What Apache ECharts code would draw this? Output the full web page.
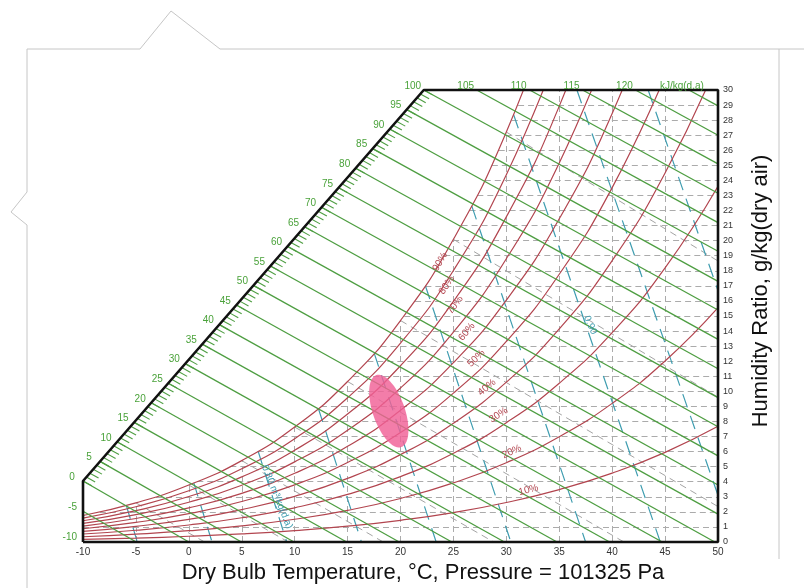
<!DOCTYPE html>
<html>
<head>
<meta charset="utf-8">
<script src="https://cdn.jsdelivr.net/npm/echarts@6/dist/echarts.min.js"></script>
<style>
  html, body { margin: 0; padding: 0; background: #ffffff; }
  #chart { width: 804px; height: 588px; }
</style>
</head>
<body>
<div id="chart"></div>
<script>
// ---------------- Psychrometric chart data (dry bulb °C, humidity g/kg) ----------------

// Relative humidity curves: humidity ratio at each dry-bulb temperature
const rhLevels = [10, 20, 30, 40, 50, 60, 70, 80, 90, 100];
const rhTemps = [-10, -5, 0, 5, 10, 15, 20, 25, 30, 35, 40, 45, 50];
const rhHumidity = [
  [0.18, 0.26, 0.38, 0.54, 0.76, 1.05, 1.44, 1.95, 2.62, 3.48, 4.57, 5.95, 7.68],
  [0.35, 0.52, 0.75, 1.07, 1.51, 2.10, 2.89, 3.92, 5.26, 6.99, 9.20, 12.01, 15.55],
  [0.53, 0.78, 1.13, 1.61, 2.27, 3.16, 4.34, 5.89, 7.92, 10.54, 13.90, 18.19, 23.61],
  [0.70, 1.04, 1.50, 2.15, 3.03, 4.22, 5.80, 7.88, 10.61, 14.14, 18.68, 24.49, 31.89],
  [0.88, 1.30, 1.88, 2.69, 3.79, 5.28, 7.26, 9.88, 13.31, 17.77, 23.52, 30.91],
  [1.06, 1.56, 2.26, 3.23, 4.56, 6.35, 8.74, 11.90, 16.05, 21.45, 28.44, 37.47],
  [1.23, 1.82, 2.64, 3.77, 5.32, 7.42, 10.22, 13.93, 18.80, 25.16, 33.44],
  [1.41, 2.08, 3.02, 4.32, 6.09, 8.49, 11.70, 15.97, 21.58, 28.93, 38.51],
  [1.59, 2.34, 3.40, 4.86, 6.86, 9.57, 13.20, 18.02, 24.38, 32.73],
  [1.76, 2.60, 3.78, 5.40, 7.63, 10.65, 14.70, 20.09, 27.21, 36.58]
];
const rhLabelText = ['10%', '20%', '30%', '40%', '50%', '60%', '70%', '80%', '90%'];
const rhLabelPos = [[32.1, 3.45], [30.52, 5.99], [29.26, 8.43], [28.16, 10.26], [27.15, 12.19],
                    [26.26, 13.95], [25.16, 15.73], [24.37, 17.05], [23.74, 18.6]];

// Enthalpy lines, kJ/kg(d.a): start on the scale edge, end on the bottom/right edge
const enthalpyValues = [-10, -5, 0, 5, 10, 15, 20, 25, 30, 35, 40, 45, 50, 55, 60, 65, 70,
                        75, 80, 85, 90, 95, 100, 105, 110, 115, 120, 125];
const enthalpyStart = [[-10, 0.03], [-10, 2.04], [-10, 4.05], [-8.39, 5.35], [-6.78, 6.65],
  [-5.17, 7.94], [-3.56, 9.24], [-1.95, 10.54], [-0.34, 11.84], [1.27, 13.13], [2.88, 14.43],
  [4.49, 15.73], [6.10, 17.03], [7.71, 18.32], [9.32, 19.62], [10.93, 20.92], [12.54, 22.22],
  [14.15, 23.51], [15.76, 24.81], [17.37, 26.11], [18.98, 27.41], [20.59, 28.70], [22.20, 30],
  [27.20, 30], [32.20, 30], [37.20, 30], [42.20, 30], [47.25, 30]];
const enthalpyEnd = [[-9.94, 0], [-4.97, 0], [0, 0], [4.97, 0], [9.94, 0], [14.91, 0],
  [19.88, 0], [24.85, 0], [29.82, 0], [34.79, 0], [39.76, 0], [44.73, 0], [49.70, 0],
  [50, 1.85], [50, 3.78], [50, 5.72], [50, 7.65], [50, 9.58], [50, 11.50], [50, 13.45],
  [50, 15.40], [50, 17.30], [50, 19.30], [50, 21.20], [50, 23.15], [50, 25.10], [50, 27.00],
  [50, 28.95]];
const enthalpyUnit = 'kJ/kg(d.a)';

// Specific volume lines, m³/kg(d.a)
const volumeValues = [0.76, 0.78, 0.80, 0.82, 0.84, 0.86, 0.88, 0.90, 0.92, 0.94];
const volumeStart = [[-5.91, 2.43], [0.47, 3.92], [6.55, 6.02], [12.24, 8.86], [17.52, 12.52],
  [22.35, 17.01], [26.74, 22.29], [30.70, 28.34], [36.67, 30], [43.40, 30]];
const volumeEnd = [[-4.87, 0], [2.19, 0], [9.25, 0], [16.31, 0], [23.37, 0], [30.43, 0],
  [37.49, 0], [44.55, 0], [50, 3.10], [50, 16.69]];
const volumeLabelText = ['0.80 m³/kg(d.a)', '0.90'];
const volumeLabelPos = [[8.33, 2.99], [37.93, 14.4]];

// Wet bulb lines, °C
const wetBulbValues = [-5, 0, 5, 10, 15, 20, 25, 30];
const wetBulbStart = [[-5, 2.60], [0, 3.78], [5, 5.40], [10, 7.63], [15, 10.65], [20, 14.70],
  [25, 20.09], [30, 27.21]];
const wetBulbEnd = [[1.49, 0], [9.39, 0], [18.37, 0], [28.80, 0], [41.11, 0], [50, 2.35],
  [50, 9.61], [50, 18.65]];

// Grid: horizontal lines begin at the dew point, vertical lines stop at saturation
const gridHumidity = [1, 2, 3, 4, 5, 6, 7, 8, 9, 10, 11, 12, 13, 14, 15, 16, 17, 18, 19, 20,
  21, 22, 23, 24, 25, 26, 27, 28, 29];
const gridDewPoint = [-10, -8.41, -3.11, 0.80, 3.92, 6.52, 8.76, 10.72, 12.48, 14.07, 15.53,
  16.87, 18.11, 19.27, 20.36, 21.38, 22.35, 23.27, 24.14, 24.97, 25.77, 26.53, 27.26, 27.96,
  28.63, 29.28, 29.91, 30.52, 31.11];
const gridTemps = [-5, 0, 5, 10, 15, 20, 25, 30, 35, 40, 45];
const gridSatHumidity = [2.60, 3.78, 5.40, 7.63, 10.65, 14.70, 20.09, 27.21, 30, 30, 30];

// Chart boundary: left edge, enthalpy scale edge, top edge, right edge, bottom
const chartBoundary = [[-10, 0], [-10, 4.05], [22.20, 30], [50, 30], [50, 0], [-10, 0]];

// Comfort zone: ends of the ellipse's long axis
const comfortZoneAxis = [[17.71, 11.08], [20.08, 6.30]];

// ---------------- Styles ----------------
const FONT = '"Liberation Sans", Arial, sans-serif';
const GREEN = '#4e9e42';
const GREEN_TEXT = '#4aa23a';
const RED = '#b2454f';
const TEAL = '#3f9db0';
const GRAY = '#ababab';
const rhLabelAngle = [15, 25, 33, 40, 45, 50, 54, 57, 60];
const volumeLabelAngle = [-68, -66];
const comfortHalfWidth = 16;

function segments(starts, ends) {
  return starts.map((s, i) => ({ coords: [s, ends[i]] }));
}

function linesSeries(data, color, width, dash, z) {
  return {
    type: 'lines',
    coordinateSystem: 'cartesian2d',
    data: data,
    silent: true,
    clip: true,
    z: z,
    lineStyle: { color: color, width: width, type: dash, opacity: 1 }
  };
}

function textSeries(positions, texts, color, fontSize, angles, offset, align, z) {
  return {
    type: 'custom',
    silent: true,
    z: z,
    data: positions,
    renderItem: function (params, api) {
      const i = params.dataIndex;
      const p = api.coord([api.value(0), api.value(1)]);
      const off = typeof offset === 'function' ? offset(i) : offset;
      return {
        type: 'text',
        x: p[0] + off[0],
        y: p[1] + off[1],
        rotation: (angles ? angles[i] : 0) * Math.PI / 180,
        style: {
          text: texts[i],
          fill: color,
          font: fontSize + 'px ' + FONT,
          align: typeof align === 'function' ? align(i) : align,
          verticalAlign: 'middle'
        }
      };
    }
  };
}

const series = [];

// gray dashed grid
series.push(linesSeries(
  gridHumidity.map((w, i) => ({ coords: [[gridDewPoint[i], w], [50, w]] })),
  GRAY, 1, [6, 4], 1));
series.push(linesSeries(
  gridTemps.map((t, i) => ({ coords: [[t, 0], [t, gridSatHumidity[i]]] })),
  GRAY, 1, [6, 4], 1));

// wet bulb lines
series.push(linesSeries(segments(wetBulbStart, wetBulbEnd), '#a4a4a4', 1, [7, 5], 1));

// specific volume lines
series.push(linesSeries(segments(volumeStart, volumeEnd), TEAL, 1.2, [14, 9], 2));

// relative humidity curves
rhLevels.forEach((rh, k) => {
  series.push({
    type: 'line',
    name: rh + '%',
    data: rhHumidity[k].map((w, i) => [rhTemps[i], w]),
    smooth: 0.5,
    showSymbol: false,
    symbol: 'none',
    silent: true,
    clip: true,
    z: 3,
    lineStyle: { color: RED, width: 1.2 }
  });
});

// enthalpy lines
series.push(linesSeries(segments(enthalpyStart, enthalpyEnd), GREEN, 1.3, 'solid', 4));

// minor ticks along the enthalpy scale (0 … 100 kJ/kg)
series.push({
  type: 'custom',
  silent: true,
  z: 4,
  data: [[0, 0]],
  renderItem: function (params, api) {
    const a = api.coord(enthalpyStart[2]);
    const b = api.coord(enthalpyStart[22]);
    const d0 = api.coord(enthalpyStart[12]);
    const d1 = api.coord(enthalpyEnd[12]);
    const len = Math.hypot(d1[0] - d0[0], d1[1] - d0[1]);
    const ux = (d1[0] - d0[0]) / len, uy = (d1[1] - d0[1]) / len;
    const children = [];
    const steps = enthalpyValues[22] - enthalpyValues[2];
    for (let k = 0; k <= steps; k++) {
      const x = a[0] + (b[0] - a[0]) * k / steps;
      const y = a[1] + (b[1] - a[1]) * k / steps;
      children.push({
        type: 'line',
        shape: { x1: x, y1: y, x2: x + ux * 10, y2: y + uy * 10 },
        style: { stroke: GREEN, lineWidth: 1.1 }
      });
    }
    return { type: 'group', children: children };
  }
});

// chart boundary
series.push({
  type: 'line',
  data: chartBoundary,
  showSymbol: false,
  symbol: 'none',
  silent: true,
  clip: false,
  z: 5,
  lineStyle: { color: '#111111', width: 2.6 }
});

// enthalpy labels
const enthalpyText = enthalpyValues.map((h, i) => i === enthalpyValues.length - 1 ? enthalpyUnit : String(h));
series.push(textSeries(enthalpyStart, enthalpyText, GREEN_TEXT, 10, null,
  function (i) { return enthalpyValues[i] < 0 ? [-6, -4] : (i === enthalpyValues.length - 1 ? [-7, -4] : [-11, -4]); },
  function (i) { return enthalpyValues[i] < 0 ? 'right' : 'center'; }, 6));

// relative humidity labels
series.push(textSeries(rhLabelPos, rhLabelText, RED, 10, rhLabelAngle, [0, 0], 'center', 6));

// specific volume labels
series.push(textSeries(volumeLabelPos, volumeLabelText, TEAL, 10, volumeLabelAngle, [0, 0], 'center', 6));

// comfort zone ellipse
series.push({
  type: 'custom',
  silent: true,
  z: 7,
  data: [[comfortZoneAxis[0][0], comfortZoneAxis[0][1], comfortZoneAxis[1][0], comfortZoneAxis[1][1]]],
  renderItem: function (params, api) {
    const p1 = api.coord([api.value(0), api.value(1)]);
    const p2 = api.coord([api.value(2), api.value(3)]);
    const cx = (p1[0] + p2[0]) / 2, cy = (p1[1] + p2[1]) / 2;
    const a = Math.hypot(p2[0] - p1[0], p2[1] - p1[1]) / 2;
    const ang = Math.atan2(p2[1] - p1[1], p2[0] - p1[0]);
    const pts = [];
    for (let k = 0; k < 72; k++) {
      const th = k / 72 * Math.PI * 2;
      const ex = a * Math.cos(th), ey = comfortHalfWidth * Math.sin(th);
      pts.push([cx + ex * Math.cos(ang) - ey * Math.sin(ang), cy + ex * Math.sin(ang) + ey * Math.cos(ang)]);
    }
    return {
      type: 'polygon',
      shape: { points: pts },
      style: { fill: 'rgba(240, 96, 150, 0.82)', stroke: null }
    };
  }
});

const option = {
  animation: false,
  backgroundColor: '#ffffff',
  grid: { left: 83, right: 86, top: 90, bottom: 46, containLabel: false },
  xAxis: {
    type: 'value',
    min: -10,
    max: 50,
    interval: 5,
    axisLine: { show: false },
    axisTick: { show: false },
    splitLine: { show: false },
    axisLabel: { color: '#333333', fontSize: 10, fontFamily: FONT, margin: 5 }
  },
  yAxis: {
    type: 'value',
    position: 'right',
    min: 0,
    max: 30,
    interval: 1,
    axisLine: { show: false },
    axisTick: { show: false },
    splitLine: { show: false },
    axisLabel: { color: '#333333', fontSize: 9, fontFamily: FONT, margin: 5 }
  },
  graphic: [
    {
      type: 'polyline',
      silent: true,
      shape: { points: [[804, 49], [220, 49], [171, 11], [140, 49], [27, 49], [27, 192], [11, 212], [27, 225], [27, 588]] },
      style: { stroke: '#c6c6c6', lineWidth: 1, fill: null }
    },
    {
      type: 'line',
      silent: true,
      shape: { x1: 779, y1: 49, x2: 779, y2: 559 },
      style: { stroke: '#c6c6c6', lineWidth: 1 }
    },
    {
      type: 'text',
      silent: true,
      x: 423,
      y: 573,
      style: {
        text: 'Dry Bulb Temperature, °C, Pressure = 101325 Pa',
        font: '22px ' + FONT,
        fill: '#111111',
        align: 'center',
        verticalAlign: 'middle'
      }
    },
    {
      type: 'text',
      silent: true,
      x: 761,
      y: 291,
      rotation: Math.PI / 2,
      style: {
        text: 'Humidity Ratio, g/kg(dry air)',
        font: '22px ' + FONT,
        fill: '#111111',
        align: 'center',
        verticalAlign: 'middle'
      }
    }
  ],
  series: series
};

const chart = echarts.init(document.getElementById('chart'), null, { renderer: 'canvas' });
chart.setOption(option);
</script>
</body>
</html>
